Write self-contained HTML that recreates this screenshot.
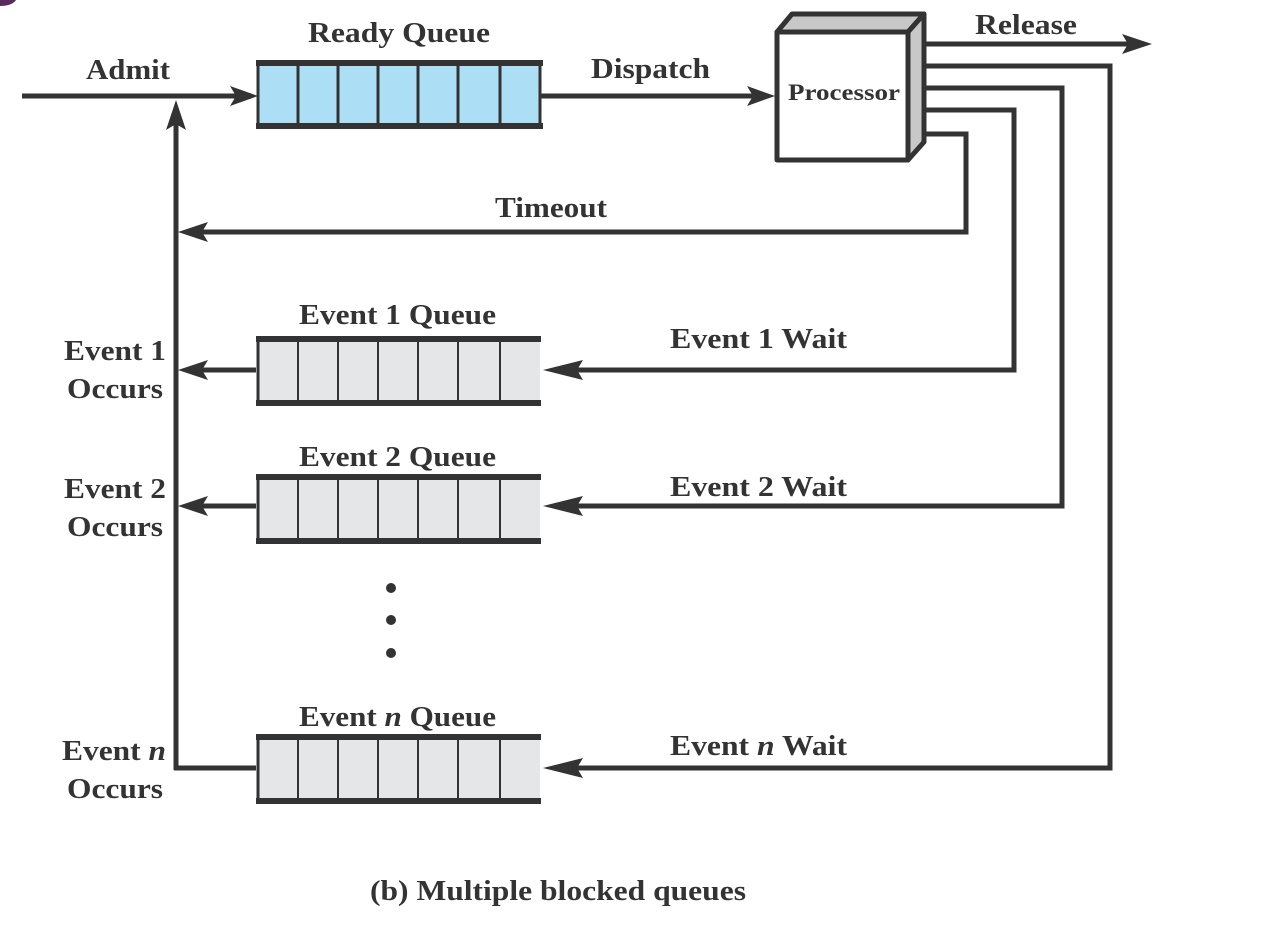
<!DOCTYPE html>
<html><head><meta charset="utf-8"><style>
html,body{margin:0;padding:0;background:#fff;}
svg{display:block;}
text{font-family:"Liberation Serif",serif;font-weight:bold;fill:#333;}
</style></head><body>
<svg width="1280" height="946" viewBox="0 0 1280 946" xmlns="http://www.w3.org/2000/svg">
<path d="M0 0 H16 Q12 6 0 6 Z" fill="#5a2a5e"/>
<g stroke="#333" stroke-width="5" fill="none">
<line x1="22" y1="96" x2="236" y2="96"/>
<line x1="176" y1="112" x2="176" y2="770"/>
<line x1="174" y1="768" x2="256" y2="768"/>
<line x1="540" y1="96" x2="755" y2="96"/>
<line x1="920" y1="44" x2="1130" y2="44"/>
<polyline points="920,134 966,134 966,232 196,232"/>
<polyline points="920,110 1014,110 1014,370 565,370"/>
<polyline points="920,88 1062,88 1062,506 565,506"/>
<polyline points="920,66 1110,66 1110,768 565,768"/>
<line x1="256" y1="370" x2="196" y2="370"/>
<line x1="256" y1="506" x2="196" y2="506"/>
</g>
<g fill="#333">
<polygon points="258,96 230,86 236,96 230,106"/>
<polygon points="775,96 747,86 753,96 747,106"/>
<polygon points="1152,44 1122,34 1128,44 1122,54"/>
<polygon points="176,100 166,130 176,124 186,130"/>
<polygon points="178,232 208,222 202,232 208,242"/>
<polygon points="178,370 208,360 202,370 208,380"/>
<polygon points="178,506 208,496 202,506 208,516"/>
<polygon points="543,370 583,360 577,370 583,380"/>
<polygon points="543,506 583,496 577,506 583,516"/>
<polygon points="543,768 583,758 577,768 583,778"/>
<circle cx="391" cy="588" r="5"/><circle cx="391" cy="620" r="5"/><circle cx="391" cy="653" r="5"/>
</g>
<g>
<rect x="258" y="62" width="282" height="64" fill="#acdff5"/>
<rect x="258" y="338" width="282" height="66" fill="#e5e6e8"/>
<rect x="258" y="476" width="282" height="66" fill="#e5e6e8"/>
<rect x="258" y="736" width="282" height="66" fill="#e5e6e8"/>
</g>
<g stroke="#333" stroke-width="6">
<line x1="256" y1="63" x2="543" y2="63"/><line x1="256" y1="126" x2="543" y2="126"/>
<line x1="256" y1="339" x2="541" y2="339"/><line x1="256" y1="403" x2="541" y2="403"/>
<line x1="256" y1="477" x2="541" y2="477"/><line x1="256" y1="541" x2="541" y2="541"/>
<line x1="256" y1="737" x2="541" y2="737"/><line x1="256" y1="801" x2="541" y2="801"/>
</g>
<g stroke="#333" stroke-width="3">
<line x1="258" y1="60" x2="258" y2="129"/><line x1="258" y1="336" x2="258" y2="406"/><line x1="258" y1="474" x2="258" y2="544"/><line x1="258" y1="734" x2="258" y2="804"/>
<path d="M298 60V129M338 60V129M378 60V129M418 60V129M458 60V129M500 60V129M540 60V129" stroke-width="3"/>
<path d="M298 336V406M338 336V406M378 336V406M418 336V406M458 336V406M500 336V406" stroke-width="2"/>
<path d="M298 474V544M338 474V544M378 474V544M418 474V544M458 474V544M500 474V544" stroke-width="2"/>
<path d="M298 734V804M338 734V804M378 734V804M418 734V804M458 734V804M500 734V804" stroke-width="2"/>
</g>
<g stroke="#333" stroke-width="5" stroke-linejoin="round">
<polygon points="777,32 792,14 924,14 908,32" fill="#c8c8c8"/>
<polygon points="908,32 924,14 924,142 908,160" fill="#c8c8c8"/>
<rect x="777" y="32" width="131" height="128" fill="#fff"/>
</g>
<text x="788" y="100" font-size="23" textLength="112" lengthAdjust="spacingAndGlyphs">Processor</text>
<g font-size="28" lengthAdjust="spacingAndGlyphs">
<text x="308" y="42" textLength="182" lengthAdjust="spacingAndGlyphs">Ready Queue</text>
<text x="86" y="79" textLength="84" lengthAdjust="spacingAndGlyphs">Admit</text>
<text x="591" y="78" textLength="119" lengthAdjust="spacingAndGlyphs">Dispatch</text>
<text x="975" y="34" textLength="102" lengthAdjust="spacingAndGlyphs">Release</text>
<text x="495" y="217" textLength="112" lengthAdjust="spacingAndGlyphs">Timeout</text>
<text x="299" y="324" textLength="197" lengthAdjust="spacingAndGlyphs">Event 1 Queue</text>
<text x="299" y="466" textLength="197" lengthAdjust="spacingAndGlyphs">Event 2 Queue</text>
<text x="299" y="726" textLength="197" lengthAdjust="spacingAndGlyphs">Event <tspan font-style="italic">n</tspan> Queue</text>
<text x="670" y="348" textLength="177" lengthAdjust="spacingAndGlyphs">Event 1 Wait</text>
<text x="670" y="496" textLength="177" lengthAdjust="spacingAndGlyphs">Event 2 Wait</text>
<text x="670" y="755" textLength="177" lengthAdjust="spacingAndGlyphs">Event <tspan font-style="italic">n</tspan> Wait</text>
<text x="64" y="360" textLength="102" lengthAdjust="spacingAndGlyphs">Event 1</text>
<text x="67" y="398" textLength="96" lengthAdjust="spacingAndGlyphs">Occurs</text>
<text x="64" y="498" textLength="102" lengthAdjust="spacingAndGlyphs">Event 2</text>
<text x="67" y="536" textLength="96" lengthAdjust="spacingAndGlyphs">Occurs</text>
<text x="62" y="760" textLength="104" lengthAdjust="spacingAndGlyphs">Event <tspan font-style="italic">n</tspan></text>
<text x="67" y="798" textLength="96" lengthAdjust="spacingAndGlyphs">Occurs</text>
<text x="370" y="900" textLength="376" lengthAdjust="spacingAndGlyphs">(b) Multiple blocked queues</text>
</g>
</svg>
</body></html>
